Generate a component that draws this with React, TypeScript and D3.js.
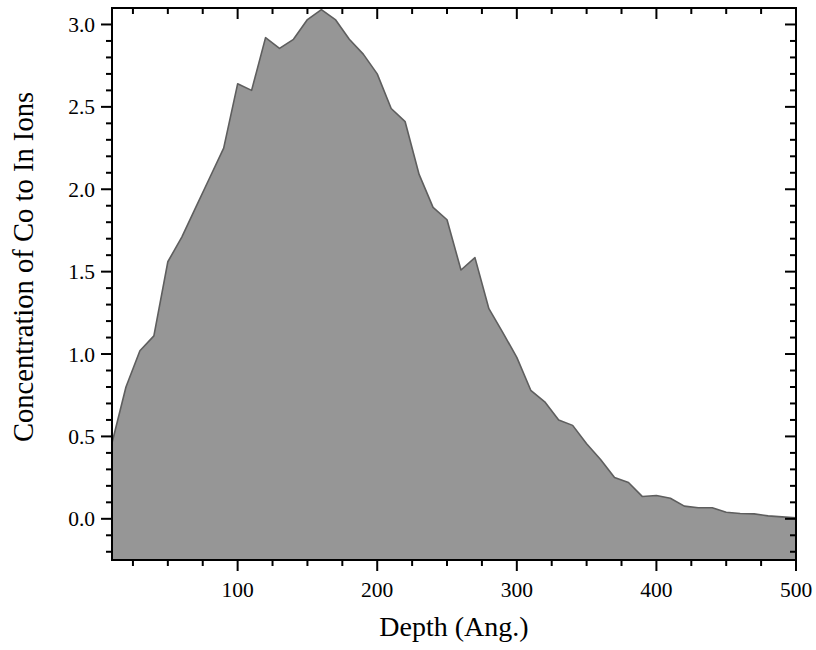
import React from "react";
import * as d3 from "d3";

const depths = [10, 20, 30, 40, 50, 60, 70, 80, 90, 100, 110, 120, 130, 140, 150, 160, 170, 180, 190, 200, 210, 220, 230, 240, 250, 260, 270, 280, 290, 300, 310, 320, 330, 340, 350, 360, 370, 380, 390, 400, 410, 420, 430, 440, 450, 460, 470, 480, 490, 500];
const concentration = [0.46, 0.8, 1.02, 1.11, 1.56, 1.71, 1.89, 2.07, 2.25, 2.64, 2.6, 2.92, 2.855, 2.91, 3.03, 3.09, 3.03, 2.91, 2.82, 2.7, 2.49, 2.41, 2.09, 1.89, 1.815, 1.51, 1.585, 1.275, 1.13, 0.98, 0.78, 0.71, 0.6, 0.567, 0.455, 0.36, 0.25, 0.22, 0.135, 0.141, 0.125, 0.077, 0.067, 0.067, 0.04, 0.032, 0.03, 0.018, 0.012, 0.006];

const xMajorTicks = [100, 200, 300, 400, 500];
const xMinorTicks = [25, 50, 75, 125, 150, 175, 225, 250, 275, 325, 350, 375, 425, 450, 475];
const yMajorTicks = [0.0, 0.5, 1.0, 1.5, 2.0, 2.5, 3.0];
const yMinorTicks = [-0.2, -0.1, 0.1, 0.2, 0.3, 0.4, 0.6, 0.7, 0.8, 0.9, 1.1, 1.2, 1.3, 1.4, 1.6, 1.7, 1.8, 1.9, 2.1, 2.2, 2.3, 2.4, 2.6, 2.7, 2.8, 2.9];

const xTitle = "Depth (Ang.)";
const yTitle = "Concentration of Co to In Ions";

const W = 816;
const H = 650;
const L = 112;
const R = 796;
const T = 8;
const B = 560;
const FONT = '"Liberation Serif", "Times New Roman", serif';

export default function App() {
  const x = d3.scaleLinear().domain([10, 500]).range([L, R]);
  const y = d3.scaleLinear().domain([-0.25, 3.1]).range([B, T]);
  const data = depths.map((d, i) => ({ d, v: concentration[i] }));
  const area = d3
    .area<{ d: number; v: number }>()
    .x((p) => x(p.d))
    .y0(B)
    .y1((p) => y(p.v));
  const line = d3
    .line<{ d: number; v: number }>()
    .x((p) => x(p.d))
    .y((p) => y(p.v));

  const MAJ = 11;
  const MIN = 6;
  const tickStroke = { stroke: "#000", strokeWidth: 2 };

  return (
    <svg width={W} height={H} style={{ position: "absolute", left: 0, top: 0, background: "#fff" }}>
      <rect x={0} y={0} width={W} height={H} fill="#fff" />
      <path d={area(data) || ""} fill="#969696" stroke="none" />
      <path d={line(data) || ""} fill="none" stroke="#5e5e5e" strokeWidth={1.6} strokeLinejoin="round" />

      {xMajorTicks.map((t) => (
        <g key={"xM" + t}>
          <line x1={x(t)} x2={x(t)} y1={B} y2={B + MAJ} {...tickStroke} />
          <line x1={x(t)} x2={x(t)} y1={T} y2={T + MAJ} {...tickStroke} />
          <text x={x(t)} y={597} textAnchor="middle" fontFamily={FONT} fontSize={21.5} fill="#000">
            {t}
          </text>
        </g>
      ))}
      {xMinorTicks.map((t) => (
        <g key={"xm" + t}>
          <line x1={x(t)} x2={x(t)} y1={B} y2={B + MIN} {...tickStroke} />
          <line x1={x(t)} x2={x(t)} y1={T} y2={T + MIN} {...tickStroke} />
        </g>
      ))}

      {yMajorTicks.map((t) => (
        <g key={"yM" + t}>
          <line x1={L - MAJ} x2={L} y1={y(t)} y2={y(t)} {...tickStroke} />
          <line x1={R - MAJ} x2={R} y1={y(t)} y2={y(t)} {...tickStroke} />
          <text x={95} y={y(t)} dy="0.35em" textAnchor="end" fontFamily={FONT} fontSize={21.5} fill="#000">
            {t.toFixed(1)}
          </text>
        </g>
      ))}
      {yMinorTicks.map((t) => (
        <g key={"ym" + t}>
          <line x1={L - MIN} x2={L} y1={y(t)} y2={y(t)} {...tickStroke} />
          <line x1={R - MIN} x2={R} y1={y(t)} y2={y(t)} {...tickStroke} />
        </g>
      ))}

      <rect x={L} y={T} width={R - L} height={B - T} fill="none" stroke="#000" strokeWidth={2} />

      <text x={(L + R) / 2} y={636} textAnchor="middle" fontFamily={FONT} fontSize={28} fill="#000">
        {xTitle}
      </text>
      <text
        transform={`translate(33, ${(T + B) / 2 - 17}) rotate(-90)`}
        textAnchor="middle"
        fontFamily={FONT}
        fontSize={28.6}
        fill="#000"
      >
        {yTitle}
      </text>
    </svg>
  );
}
